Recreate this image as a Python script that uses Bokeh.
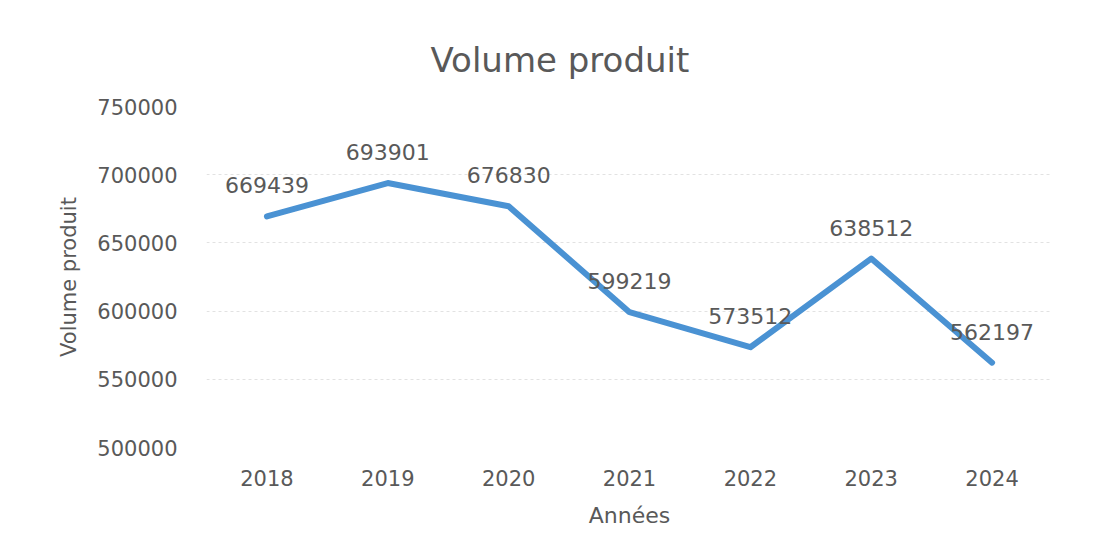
from bokeh.plotting import figure
from bokeh.models import Range1d, FactorRange, FixedTicker, BasicTickFormatter, ColumnDataSource, LabelSet
from bokeh.core.properties import value
from bokeh.embed import file_html
from bokeh.resources import INLINE

years = ["2018", "2019", "2020", "2021", "2022", "2023", "2024"]
volumes = [669439, 693901, 676830, 599219, 573512, 638512, 562197]
y_ticks = [500000, 550000, 600000, 650000, 700000, 750000]

FONT = "DejaVu Sans"
TXT = "#595959"

src = ColumnDataSource(dict(x=years, y=volumes, lbl=[str(v) for v in volumes]))

W, H = 1100, 546
p = figure(width=W, height=H, output_backend="svg", toolbar_location=None,
           x_range=FactorRange(*years), y_range=Range1d(500000, 750000),
           title="Volume produit",
           min_border_left=206, min_border_right=W - 1052, min_border_top=106, min_border_bottom=H - 447)

p.title.align = "left"
p.title.offset = 224
p.title.standoff = 53
p.title.text_font = FONT
p.title.text_font_size = "34px"
p.title.text_font_style = "normal"
p.title.text_color = TXT

p.line("x", "y", source=src, line_color="#4A92D3", line_width=6, line_cap="round", line_join="round")

labels = LabelSet(x="x", y="y", text="lbl", source=src, y_offset=31,
                  text_align="center", text_baseline="middle",
                  text_font=value(FONT), text_font_size=value("22px"), text_color=TXT)
p.add_layout(labels)

p.yaxis.ticker = FixedTicker(ticks=y_ticks)
p.yaxis.formatter = BasicTickFormatter(use_scientific=False)
for ax in (p.xaxis[0], p.yaxis[0]):
    ax.axis_line_color = None
    ax.major_tick_line_color = None
    ax.minor_tick_line_color = None
    ax.major_label_text_font = FONT
    ax.major_label_text_font_size = "21px"
    ax.major_label_text_color = TXT
    ax.axis_label_text_font = FONT
    ax.axis_label_text_font_style = "normal"
    ax.axis_label_text_color = TXT

p.xaxis.axis_label = "Années"
p.xaxis.axis_label_text_font_size = "22px"
p.xaxis.major_label_standoff = 16
p.xaxis.axis_label_standoff = 14
p.yaxis.axis_label = "Volume produit"
p.yaxis.axis_label_text_font_size = "21px"
p.yaxis.major_label_standoff = 23
p.yaxis.axis_label_standoff = 13

p.xgrid.grid_line_color = None
p.ygrid.grid_line_color = "#e2e2e2"
p.ygrid.grid_line_width = 1
p.ygrid.grid_line_dash = "3 3"
p.outline_line_color = None
p.background_fill_color = "white"
p.border_fill_color = "white"

open("out.html", "w").write(file_html(p, INLINE))
